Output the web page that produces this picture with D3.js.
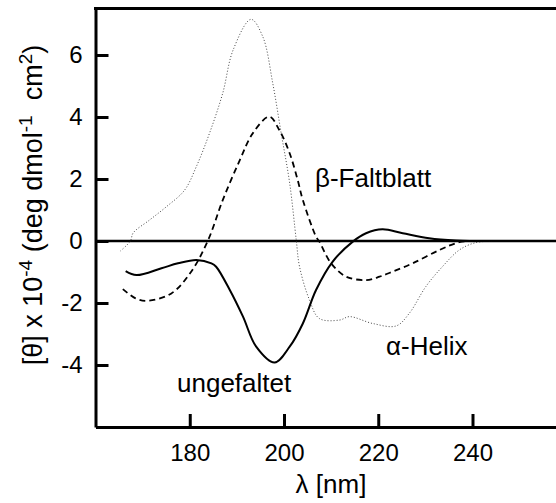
<!DOCTYPE html>
<html>
<head>
<meta charset="utf-8">
<script src="https://cdn.jsdelivr.net/npm/d3@7"></script>
<style>
  body { margin: 0; background: #fff; }
  svg text { font-family: "Liberation Sans", Arial, sans-serif; fill: #000; }
</style>
</head>
<body>
<div id="chart"></div>
<script>
// wavelength (nm) and mean residue ellipticity (x 10^-4)
var helixNm    = [165.3, 167.4, 168, 171.5, 175, 178.9, 181.4, 184.2, 187, 189.2, 193, 195.5, 197.6, 199.4, 201.2, 202.6, 203.3, 205.4, 207.5, 211.8, 213.9, 218.8, 223.8, 226.6, 230.1, 233.6, 237.2, 240.5, 244.2];
var helixVal   = [-0.32, 0, 0.26, 0.68, 1.1, 1.64, 2.4, 3.48, 4.77, 6.16, 7.15, 6.59, 5.1, 3.48, 1.87, 0.03, -0.83, -1.9, -2.5, -2.55, -2.44, -2.66, -2.74, -2.33, -1.47, -0.83, -0.29, -0.06, 0];

var sheetNm    = [165.8, 168.5, 171.1, 176.1, 180.3, 183.9, 187, 190.6, 193.4, 196.9, 199, 201.2, 202.9, 204, 206.8, 207.5, 210, 213.2, 217.4, 220.3, 223, 227.3, 233, 237.2, 241, 245];
var sheetVal   = [-1.55, -1.85, -1.93, -1.69, -0.99, 0.03, 1.32, 2.6, 3.48, 4.01, 3.58, 2.83, 1.97, 1.32, 0.14, -0.02, -0.72, -1.15, -1.26, -1.15, -0.99, -0.72, -0.29, -0.04, 0, 0];

var unfoldNm   = [166.4, 168.7, 174, 177.5, 181.4, 184.6, 185.6, 188.5, 191.3, 194.1, 198, 201.2, 204, 206.8, 210.3, 214.6, 217.4, 220.9, 225.2, 230.8, 236.5, 243.5];
var unfoldVal  = [-0.97, -1.1, -0.88, -0.72, -0.61, -0.72, -0.83, -1.58, -2.44, -3.41, -3.92, -3.41, -2.66, -1.58, -0.67, -0.02, 0.25, 0.38, 0.25, 0.09, 0.02, 0];

var xTicks = [180, 200, 220, 240];
var yTicks = [-4, -2, 0, 2, 4, 6];

var svgWidth = 556;
var svgHeight = 503;

var margins = { left: 95.5, top: 8.5, bottom: 76 };
var plotBottom = svgHeight - margins.bottom;

var svg = d3.select("#chart")
    .append("svg")
    .attr("width", svgWidth)
    .attr("height", svgHeight);

// right side of the frame runs off the picture
var xScale = d3.scaleLinear()
    .domain([160, 260])
    .range([margins.left, margins.left + 100 * 4.7125]);
var yScale = d3.scaleLinear()
    .domain([-6, 7.5])
    .range([plotBottom, margins.top]);

var xAxis = d3.axisBottom(xScale)
    .tickValues(xTicks)
    .tickSizeInner(-13)
    .tickSizeOuter(0)
    .tickPadding(17);
var yAxis = d3.axisLeft(yScale)
    .tickValues(yTicks)
    .tickFormat(d => String(d))   // plain hyphen, not unicode minus
    .tickSizeInner(-13)
    .tickSizeOuter(0)
    .tickPadding(13);

var gx = svg.append("g")
    .attr("transform", `translate(0, ${plotBottom})`)
    .call(xAxis);
var gy = svg.append("g")
    .attr("transform", `translate(${margins.left}, 0)`)
    .call(yAxis);

[gx, gy].forEach(function(g) {
    g.selectAll("path, line").attr("stroke", "#000").attr("stroke-width", 3);
    g.selectAll("text").style("font-size", "24px").attr("fill", "#000");
});

// top edge of the frame
svg.append("line")
    .attr("x1", margins.left - 1.5).attr("x2", svgWidth)
    .attr("y1", yScale(7.5)).attr("y2", yScale(7.5))
    .attr("stroke", "#000").attr("stroke-width", 3);

// zero line
svg.append("line")
    .attr("x1", margins.left).attr("x2", svgWidth)
    .attr("y1", yScale(0)).attr("y2", yScale(0))
    .attr("stroke", "#000").attr("stroke-width", 2.5);

var line = d3.line()
    .x(d => xScale(d[0]))
    .y(d => yScale(d[1]))
    .curve(d3.curveCatmullRom.alpha(0.5));

function pairs(xs, ys) {
    return xs.map((x, i) => [x, ys[i]]);
}

svg.append("path")
    .datum(pairs(helixNm, helixVal))
    .attr("d", line)
    .attr("fill", "none")
    .attr("stroke", "#444")
    .attr("stroke-width", 1)
    .attr("stroke-dasharray", "1,2");

svg.append("path")
    .datum(pairs(sheetNm, sheetVal))
    .attr("d", line)
    .attr("fill", "none")
    .attr("stroke", "#000")
    .attr("stroke-width", 1.8)
    .attr("stroke-dasharray", "6,4");

svg.append("path")
    .datum(pairs(unfoldNm, unfoldVal))
    .attr("d", line)
    .attr("fill", "none")
    .attr("stroke", "#000")
    .attr("stroke-width", 2);

// curve labels
svg.append("text").attr("x", 315).attr("y", 187).style("font-size", "26px").text("β-Faltblatt");
svg.append("text").attr("x", 386).attr("y", 355).style("font-size", "26px").text("α-Helix");
svg.append("text").attr("x", 177).attr("y", 392).style("font-size", "26px").text("ungefaltet");

// axis titles
svg.append("text")
    .attr("x", 331).attr("y", 493)
    .attr("text-anchor", "middle")
    .style("font-size", "26px")
    .text("λ [nm]");

var yTitle = svg.append("text")
    .attr("transform", `translate(42, 205) rotate(-90)`)
    .attr("text-anchor", "middle")
    .style("font-size", "27px");
yTitle.append("tspan").text("[θ] x 10");
yTitle.append("tspan").attr("dy", -10).style("font-size", "19px").text("-4");
yTitle.append("tspan").attr("dy", 10).text(" (deg dmol");
yTitle.append("tspan").attr("dy", -10).style("font-size", "19px").text("-1");
yTitle.append("tspan").attr("dy", 10).text("  cm").style("white-space", "pre");
yTitle.append("tspan").attr("dy", -10).style("font-size", "19px").text("2");
yTitle.append("tspan").attr("dy", 10).text(")");
</script>
</body>
</html>
